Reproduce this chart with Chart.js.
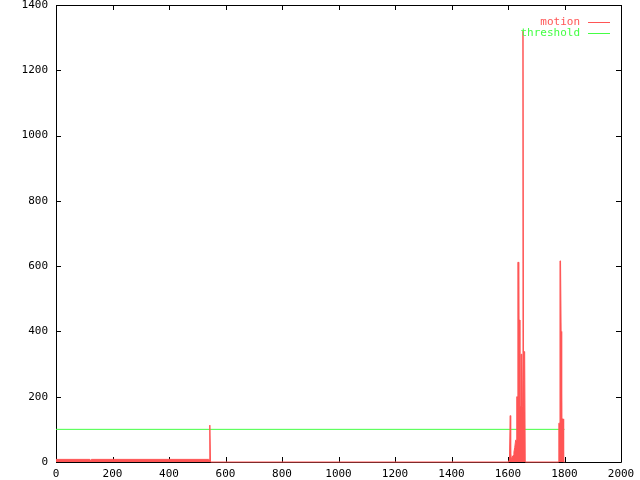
<!DOCTYPE html>
<html>
<head>
<meta charset="utf-8">
<script src="https://cdn.jsdelivr.net/npm/chart.js@4"></script>
<style>
html,body{margin:0;padding:0;background:#fff;}
#wrap{width:640px;height:480px;}
</style>
</head>
<body>
<div id="wrap"><canvas id="c" width="640" height="480"></canvas></div>
<script>
const seriesNames = ["motion", "threshold"];
const xTicks = [0, 200, 400, 600, 800, 1000, 1200, 1400, 1600, 1800, 2000];
const yTicks = [0, 200, 400, 600, 800, 1000, 1200, 1400];

const motionX = [0, 120, 121, 124, 125, 540, 543, 544, 545, 547, 1600, 1603, 1605, 1607, 1608, 1609, 1610, 1612, 1615, 1618, 1621, 1624, 1627, 1630, 1631, 1634, 1635, 1637, 1638, 1641, 1642, 1645, 1646, 1649, 1651, 1653, 1655, 1656, 1659, 1661, 1778, 1780, 1783, 1784, 1786, 1788, 1789, 1791, 1792, 1795, 1797, 1800];
const motionY = [8, 8, 5, 5, 8, 8, 8, 113, 113, 0, 0, 4, 0, 0, 142, 0, 25, 8, 15, 20, 30, 45, 67, 67, 200, 200, 612, 612, 435, 435, 170, 170, 330, 330, 170, 1320, 250, 338, 338, 0, 0, 119, 119, 616, 616, 400, 400, 132, 132, 132, 0, 0];

const thresholdX = [0, 1800];
const thresholdY = [100, 100];

const RED = "#ff5555";
const GREEN = "#44ff44";
const FONT = "'DejaVu Sans Mono', 'Liberation Mono', monospace";

function pts(xs, ys) { return xs.map((x, i) => ({x: x, y: ys[i]})); }

const frame = {
  id: 'frame',
  beforeDatasetsDraw(chart) {
    const {ctx, chartArea: a, scales} = chart;
    ctx.save();
    ctx.strokeStyle = '#000';
    ctx.lineWidth = 1;
    ctx.beginPath();
    ctx.rect(Math.round(a.left) + 0.5, Math.round(a.top) + 0.5, Math.round(a.right - a.left), Math.round(a.bottom - a.top));
    ctx.stroke();
    const L = 5;
    ctx.beginPath();
    xTicks.forEach(v => {
      const px = Math.round(scales.x.getPixelForValue(v)) + 0.5;
      ctx.moveTo(px, a.bottom); ctx.lineTo(px, a.bottom - L);
      ctx.moveTo(px, a.top); ctx.lineTo(px, a.top + L);
    });
    yTicks.forEach(v => {
      const py = Math.round(scales.y.getPixelForValue(v)) + 0.5;
      ctx.moveTo(a.left, py); ctx.lineTo(a.left + L, py);
      ctx.moveTo(a.right, py); ctx.lineTo(a.right - L, py);
    });
    ctx.stroke();
    ctx.restore();
  },
  afterDraw(chart) {
    const {ctx} = chart;
    ctx.save();
    ctx.font = "11px " + FONT;
    ctx.textAlign = 'right';
    ctx.textBaseline = 'middle';
    chart.data.datasets.forEach((ds, i) => {
      const y = 21.5 + i * 11;
      ctx.fillStyle = ds.borderColor;
      ctx.fillText(ds.label, 580, y + 1);
      ctx.strokeStyle = ds.borderColor;
      ctx.lineWidth = 1;
      ctx.beginPath();
      ctx.moveTo(588, Math.round(y) + 0.5);
      ctx.lineTo(610, Math.round(y) + 0.5);
      ctx.stroke();
    });
    ctx.restore();
  }
};

new Chart(document.getElementById('c'), {
  type: 'scatter',
  data: {
    datasets: [
      {
        label: seriesNames[0],
        data: pts(motionX, motionY),
        showLine: true,
        borderColor: RED,
        backgroundColor: RED,
        borderWidth: 1,
        pointRadius: 0,
        fill: 'origin',
        tension: 0,
        clip: 3
      },
      {
        label: seriesNames[1],
        data: pts(thresholdX, thresholdY),
        showLine: true,
        borderColor: GREEN,
        backgroundColor: GREEN,
        borderWidth: 1,
        pointRadius: 0,
        fill: false,
        tension: 0,
        clip: 3
      }
    ]
  },
  options: {
    responsive: false,
    animation: false,
    events: [],
    layout: {padding: {top: 5, right: 19, left: 0, bottom: 0}},
    plugins: {legend: {display: false}, tooltip: {enabled: false}},
    scales: {
      x: {
        type: 'linear',
        min: 0, max: 2000,
        afterBuildTicks: s => { s.ticks = xTicks.map(v => ({value: v})); },
        afterFit: s => { s.height = 18; s.paddingLeft = 0; s.paddingRight = 0; },
        grid: {display: false, drawTicks: false},
        border: {display: false},
        ticks: {color: '#000', font: {family: FONT, size: 11}, padding: 6, maxRotation: 0, autoSkip: false, callback: v => String(v)}
      },
      y: {
        type: 'linear',
        min: 0, max: 1400,
        afterBuildTicks: s => { s.ticks = yTicks.map(v => ({value: v})); },
        afterFit: s => { s.width = 56; s.paddingTop = 0; s.paddingBottom = 0; },
        grid: {display: false, drawTicks: false},
        border: {display: false},
        ticks: {color: '#000', font: {family: FONT, size: 11}, padding: 8, autoSkip: false, callback: v => String(v)}
      }
    }
  },
  plugins: [frame]
});
</script>
</body>
</html>
